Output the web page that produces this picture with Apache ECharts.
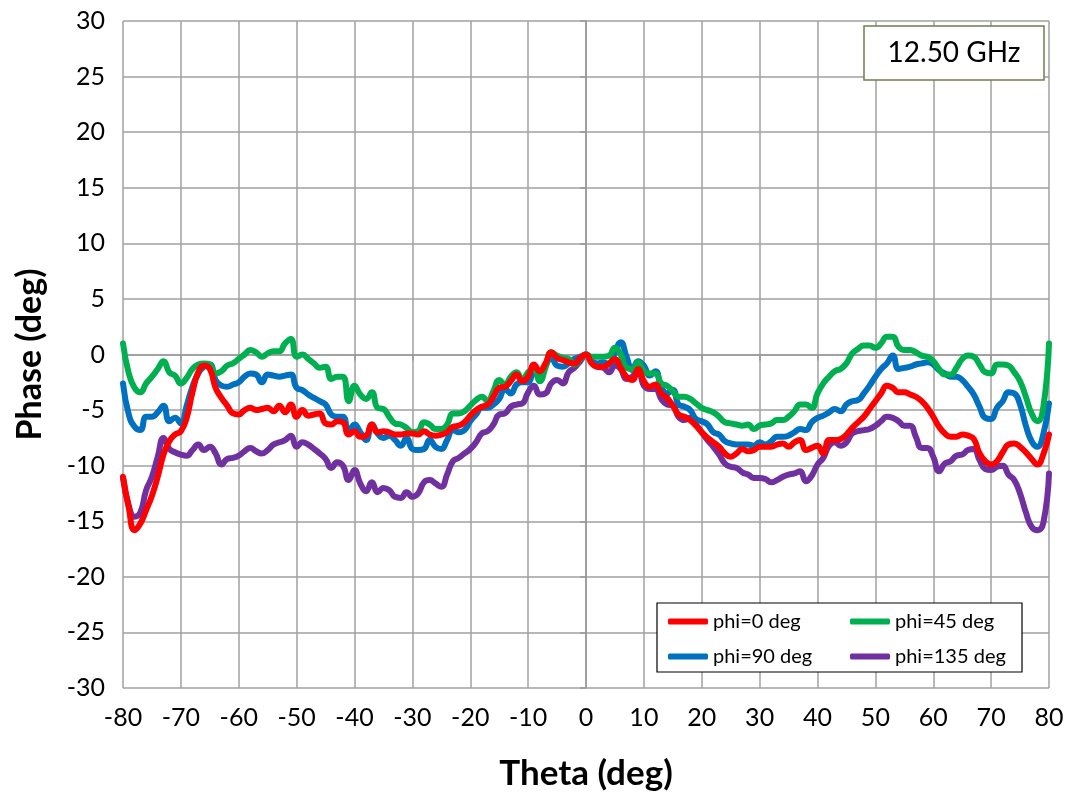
<!DOCTYPE html>
<html>
<head>
<meta charset="utf-8">
<title>Phase vs Theta</title>
<script src="https://cdn.jsdelivr.net/npm/echarts@6/dist/echarts.min.js"></script>
<style>
  html, body { margin: 0; padding: 0; background: #fff; }
  #chart { width: 1070px; height: 798px; }
</style>
</head>
<body>
<div id="chart"></div>
<script>
// theta from -80 to 80 deg, one point per degree
var theta = [];
for (var t = -80; t <= 80; t++) theta.push(t);

// phase readings (deg)
var phi0 = [
  -11.0, -13.8, -15.8, -15.2, -14.0, -12.7, -11.0, -9.0, -7.8, -7.2,
  -6.9, -5.7, -3.4, -1.6, -1.0, -1.3, -3.0, -3.9, -4.6, -5.3,
  -5.4, -5.0, -4.8, -5.0, -4.9, -4.8, -5.1, -4.6, -5.2, -4.5,
  -5.6, -5.0, -5.5, -5.4, -5.3, -6.2, -6.3, -6.0, -6.1, -7.2,
  -6.9, -7.4, -7.3, -6.3, -7.0, -6.9, -7.0, -7.2, -7.2, -7.1,
  -7.1, -7.2, -6.9, -7.2, -7.3, -7.2, -7.0, -6.5, -6.4, -6.1,
  -5.5, -5.0, -4.7, -4.5, -3.8, -3.0, -2.9, -2.4, -1.8, -2.4,
  -2.0, -0.9, -1.5, -0.8, 0.2, -0.3, -0.5, -0.7, -0.8, -0.3,
  0.0,
  -0.8, -1.1, -1.1, -0.8, -0.4, -1.2, -2.0, -2.3, -1.3, -2.4,
  -2.9, -2.7, -3.5, -3.9, -4.6, -5.4, -5.6, -5.9, -6.4, -7.0,
  -7.5, -7.9, -8.3, -8.9, -9.2, -8.9, -8.5, -8.7, -8.6, -8.3,
  -8.3, -8.3, -8.1, -8.0, -8.3, -7.9, -7.7, -8.6, -8.4, -8.2,
  -8.9, -7.7, -7.7, -7.6, -7.2, -6.6, -6.1, -5.6, -4.9, -4.2,
  -3.5, -2.8, -3.0, -3.4, -3.4, -3.6, -3.8, -4.2, -4.8, -5.6,
  -6.5, -7.1, -7.4, -7.4, -7.2, -7.3, -7.6, -8.9, -9.6, -9.9,
  -9.6, -8.8, -8.1, -8.0, -8.3, -8.8, -9.4, -9.9, -9.0, -7.2
];
var phi45 = [
  1.0, -1.7, -3.0, -3.4, -2.6, -2.0, -1.3, -0.6, -1.6, -1.9,
  -2.6, -2.1, -1.3, -0.9, -0.8, -0.9, -1.7, -1.5, -1.0, -0.8,
  -0.4, 0.0, 0.4, 0.2, -0.2, 0.1, 0.3, 0.3, 1.0, 1.4,
  -0.2, 0.0, -0.4, -0.8, -1.2, -1.1, -2.2, -2.0, -2.0, -4.2,
  -2.8, -3.6, -4.0, -3.4, -4.8, -4.9, -5.6, -6.2, -6.3, -6.6,
  -7.0, -6.9, -6.1, -6.3, -6.7, -6.7, -6.3, -5.3, -5.3, -5.1,
  -4.6, -4.1, -3.8, -4.2, -3.3, -2.3, -2.7, -2.0, -1.6, -2.3,
  -1.6, -1.3, -2.4, -1.2, 0.2, -0.1, -0.3, -0.4, -0.9, -0.4,
  0.0,
  -0.2, -0.2, -0.2, -0.1, 0.6, 0.0, -1.2, -1.3, -0.7, -1.5,
  -1.7, -1.7, -2.6, -2.8, -3.3, -3.8, -3.8, -4.0, -4.4, -4.8,
  -5.0, -5.2, -5.6, -6.1, -6.2, -6.3, -6.4, -6.3, -6.7, -6.4,
  -6.3, -6.2, -5.9, -5.9, -5.6, -5.1, -4.5, -4.5, -4.8, -3.5,
  -2.6, -2.0, -1.5, -1.3, -0.8, 0.1, 0.5, 0.8, 0.8, 0.6,
  1.0, 1.6, 1.6, 0.7, 0.4, 0.4, 0.2, -0.1, -0.2, -0.6,
  -1.3, -1.8, -1.8, -1.2, -0.4, -0.1, -0.2, -0.9, -1.6, -1.7,
  -0.9, -0.9, -1.0, -1.6, -2.4, -3.8, -5.3, -6.0, -4.8, 1.0
];
var phi90 = [
  -2.6, -5.4, -6.5, -6.8, -5.6, -5.6, -5.2, -4.6, -6.0, -5.7,
  -6.2, -4.6, -2.9, -1.7, -1.1, -0.9, -2.3, -2.8, -2.9, -2.7,
  -2.5, -2.0, -1.7, -1.8, -2.5, -1.8, -1.9, -2.0, -1.9, -1.8,
  -3.0, -3.2, -3.6, -3.9, -4.2, -4.5, -5.4, -5.6, -5.6, -7.0,
  -6.3, -7.0, -7.7, -6.3, -7.1, -7.5, -7.3, -7.7, -8.2, -7.5,
  -8.5, -8.6, -8.5, -7.7, -8.3, -8.5, -7.7, -6.8, -7.0, -6.8,
  -6.0, -5.4, -4.8, -4.8, -4.5, -4.0, -3.1, -3.5, -2.7, -2.5,
  -2.5, -1.7, -1.8, -1.0, -0.3, -1.0, -1.1, -0.8, -0.4, -0.2,
  0.0,
  -0.6, -0.8, -0.7, -0.9, 0.2, 1.1, -0.2, -1.4, -0.6, -1.0,
  -1.9, -1.5, -2.9, -3.5, -3.2, -4.5, -4.7, -5.0, -5.8, -6.0,
  -6.3, -7.0, -7.2, -7.8, -8.0, -8.1, -8.1, -8.1, -8.2, -7.9,
  -8.1, -7.8, -7.4, -7.4, -7.3, -7.0, -6.7, -6.8, -6.1, -5.7,
  -5.5, -5.2, -4.9, -5.1, -4.5, -4.2, -4.1, -3.5, -2.8, -2.0,
  -1.3, -0.8, -0.1, -1.3, -1.2, -1.1, -0.9, -0.8, -0.7, -0.9,
  -1.4, -1.7, -2.0, -2.0, -2.3, -2.9, -3.6, -4.7, -5.7, -5.8,
  -4.8, -4.2, -3.4, -3.5, -4.5, -6.4, -7.8, -8.3, -7.2, -4.4
];
var phi135 = [
  -11.1, -13.6, -14.6, -14.2, -12.2, -11.0, -9.2, -7.5, -8.5, -8.8,
  -9.0, -9.1, -8.6, -8.1, -8.6, -8.3, -8.9, -9.9, -9.4, -9.3,
  -9.1, -8.7, -8.4, -8.7, -8.9, -8.6, -8.1, -7.9, -7.7, -7.3,
  -8.3, -7.9, -8.1, -8.5, -8.9, -9.4, -10.2, -9.7, -10.0, -11.3,
  -10.4, -11.6, -12.3, -11.5, -12.4, -12.0, -12.2, -12.8, -12.9, -12.4,
  -12.8, -12.5, -11.5, -11.3, -11.6, -11.9, -10.8, -9.6, -9.3, -8.9,
  -8.5, -7.9, -7.1, -6.9, -6.3, -5.4, -5.3, -4.7, -4.5, -4.4,
  -3.4, -2.8, -3.6, -3.5, -2.6, -2.3, -2.6, -1.6, -1.2, -0.6,
  0.0,
  -0.7, -1.1, -1.2, -1.6, -1.0, -1.3, -2.2, -2.0, -1.4, -2.8,
  -3.1, -3.1, -4.0, -4.5, -4.6, -5.6, -5.9, -5.7, -6.3, -7.0,
  -7.7, -8.3, -9.0, -9.8, -10.1, -10.2, -10.6, -10.8, -11.1, -11.1,
  -11.2, -11.5, -11.3, -11.0, -10.8, -10.7, -10.5, -11.4, -10.9, -9.9,
  -9.3, -8.2, -7.9, -8.2, -7.9, -7.1, -6.9, -6.8, -6.7, -6.4,
  -6.0, -5.6, -5.7, -6.0, -6.4, -6.4, -7.4, -8.4, -8.4, -9.2,
  -10.5, -9.8, -9.6, -9.1, -9.0, -8.6, -8.5, -9.5, -10.3, -10.4,
  -10.1, -10.0, -10.8, -11.3, -12.5, -14.2, -15.5, -15.8, -15.2, -10.7
];

var seriesNames = ['phi=0 deg', 'phi=45 deg', 'phi=90 deg', 'phi=135 deg'];
var seriesColors = ['#ff0000', '#00b050', '#0070c0', '#7030a0'];
var seriesValues = [phi0, phi45, phi90, phi135];

var FONT = 'Lato, "Liberation Sans", sans-serif';

function pairs(vals) {
  return theta.map(function (t, i) { return [t, vals[i]]; });
}

// one legend column, two entries stacked
function legendCol(names, left) {
  return {
    data: names,
    orient: 'vertical',
    left: left, top: 611,
    padding: 0,
    icon: 'roundRect',
    itemWidth: 40, itemHeight: 6, itemGap: 14,
    z: 10,
    textStyle: { fontSize: 20, color: '#000', lineHeight: 21, fontFamily: FONT }
  };
}

var chart = echarts.init(document.getElementById('chart'), null, { renderer: 'canvas' });

var option = {
  backgroundColor: '#ffffff',
  animation: false,
  textStyle: { fontFamily: FONT },
  grid: { left: 123, right: 21, top: 21, bottom: 110 },
  xAxis: {
    type: 'value',
    min: -80, max: 80, interval: 10,
    name: 'Theta (deg)',
    nameLocation: 'middle',
    nameGap: 68,
    nameTextStyle: { fontSize: 35, fontWeight: 'bold', color: '#000', fontFamily: FONT },
    axisLine: { show: true, lineStyle: { color: '#999', width: 1.5 } },
    axisTick: { show: true, length: 6, lineStyle: { color: '#999', width: 1.5 } },
    axisLabel: { fontSize: 25, color: '#000', margin: 17, fontFamily: FONT },
    splitLine: { show: true, lineStyle: { color: '#a0a0a0', width: 1.5 } }
  },
  yAxis: {
    type: 'value',
    min: -30, max: 30, interval: 5,
    name: 'Phase (deg)',
    nameLocation: 'middle',
    nameGap: 76,
    nameTextStyle: { fontSize: 34, fontWeight: 'bold', color: '#000', fontFamily: FONT },
    axisLine: { show: true, lineStyle: { color: '#999', width: 1.5 } },
    axisTick: { show: true, length: 6, lineStyle: { color: '#999', width: 1.5 } },
    axisLabel: { fontSize: 25, color: '#000', margin: 18, fontFamily: FONT },
    splitLine: { show: true, lineStyle: { color: '#a0a0a0', width: 1.5 } }
  },
  legend: [
    legendCol([seriesNames[0], seriesNames[2]], 668),
    legendCol([seriesNames[1], seriesNames[3]], 850)
  ],
  graphic: [
    {
      type: 'rect', z: 8,
      shape: { x: 657, y: 603, width: 365, height: 69 },
      style: { fill: '#fff', stroke: '#000', lineWidth: 1.2 }
    },
    {
      type: 'rect', z: 8,
      shape: { x: 864, y: 26, width: 180, height: 54 },
      style: { fill: '#fff', stroke: '#6f7f4f', lineWidth: 1.5 }
    },
    {
      type: 'text', z: 9,
      x: 954, y: 53,
      style: {
        text: '12.50 GHz', fontSize: 28, fill: '#000', fontFamily: FONT,
        textAlign: 'center', textVerticalAlign: 'middle'
      }
    }
  ],
  series: seriesNames.map(function (name, k) {
    return {
      name: name,
      type: 'line',
      data: pairs(seriesValues[k]),
      showSymbol: false,
      symbol: 'none',
      smooth: 0.5,
      z: 2 + (3 - k),
      lineStyle: { color: seriesColors[k], width: 6, cap: 'round', join: 'round' },
      itemStyle: { color: seriesColors[k] }
    };
  })
};

chart.setOption(option);
</script>
</body>
</html>
